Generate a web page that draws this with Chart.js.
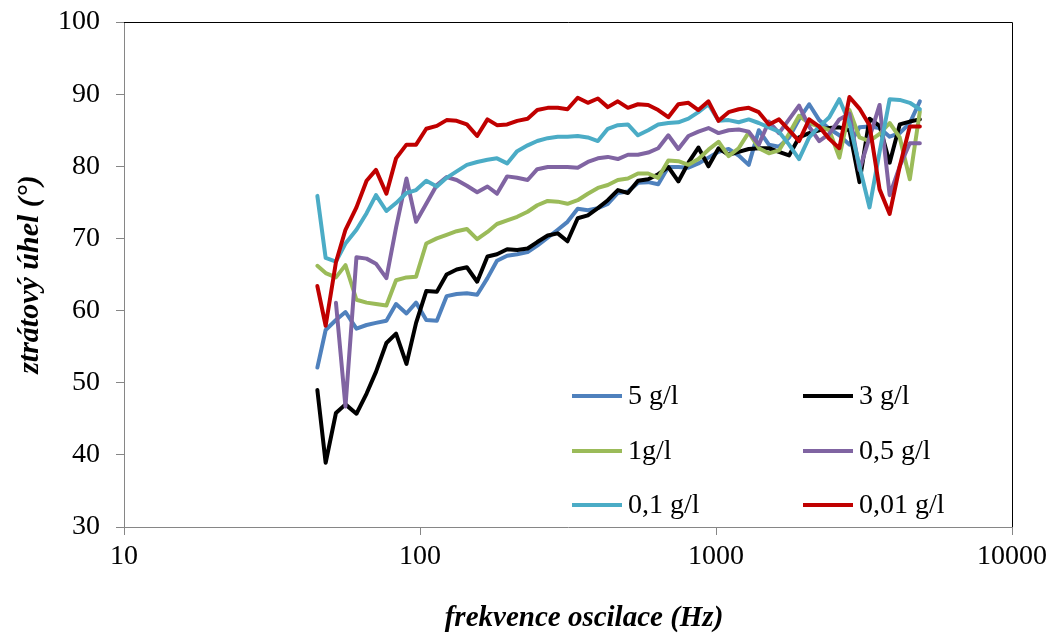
<!DOCTYPE html>
<html>
<head>
<meta charset="utf-8">
<script src="https://cdn.jsdelivr.net/npm/chart.js@4/dist/chart.umd.min.js"></script>
<style>
  html, body { margin: 0; padding: 0; background: #fff; }
  #wrap { width: 1053px; height: 635px; }
</style>
</head>
<body>
<div id="wrap"><canvas id="lossChart" width="1053" height="635"></canvas></div>
<script>
// frekvence (Hz)
const freqs = [45, 48, 52, 56, 61, 66, 71, 77, 83, 90, 97, 105, 114, 123, 133, 144, 156, 169, 182, 197,
    213, 231, 249, 270, 292, 315, 341, 369, 399, 431, 466, 504, 545, 590, 638, 690, 746, 807, 872, 943,
    1020, 1103, 1193, 1290, 1395, 1509, 1632, 1765, 1908, 2064, 2232, 2414, 2610, 2823, 3053, 3301, 3570, 3861, 4176, 4516, 4883];

const seriesLabels = ['5 g/l', '3 g/l', '1g/l', '0,5 g/l', '0,1 g/l', '0,01 g/l'];

const conc5 = [52.1, 57.3, 58.7, 59.8, 57.5, 58, 58.3, 58.6, 60.9, 59.6, 61.1, 58.7, 58.6, 62, 62.3, 62.4, 62.2, 64.5, 66.9, 67.6,
    67.8, 68.1, 69, 70.1, 71.2, 72.3, 74.1, 73.9, 74.2, 74.8, 76.3, 76.5, 77.7, 77.8, 77.5, 79.9, 79.9, 79.8, 80.4, 81.2,
    82, 82.4, 81.5, 80.2, 85, 83, 82.7, 84, 86.5, 88.6, 86.4, 85.2, 84.3, 83, 85.4, 85.5, 85.3, 84.1, 84.6, 86, 89];
const conc3 = [49, 38.9, 45.8, 47, 45.7, 48.5, 51.5, 55.5, 56.8, 52.6, 58.3, 62.7, 62.6, 65, 65.7, 66, 64, 67.5, 67.8, 68.5,
    68.4, 68.6, 69.5, 70.4, 70.7, 69.6, 72.8, 73.2, 74.2, 75.3, 76.7, 76.3, 78, 78.2, 78.9, 79.9, 77.9, 80.5, 82.6, 80,
    82.5, 81.6, 82, 82.4, 82.5, 82.5, 82, 81.5, 84, 84.6, 85, 85.3, 85.4, 85, 77.8, 86.6, 85.6, 80.5, 85.8, 86.2, 86.5];
const conc1 = [66.2, 65.2, 64.6, 66.3, 61.5, 61.1, 60.9, 60.7, 64.2, 64.6, 64.7, 69.3, 70, 70.5, 71, 71.3, 69.9, 70.9, 72, 72.5,
    73, 73.7, 74.6, 75.2, 75.1, 74.8, 75.3, 76.2, 77, 77.4, 78.1, 78.3, 79, 79, 78.4, 80.8, 80.7, 80.2, 81, 82.3,
    83.4, 81.4, 82.5, 84.7, 82.5, 81.8, 82.2, 84.5, 87, 86, 85.5, 85, 81.2, 87.8, 84, 83.5, 84.5, 86, 84, 78.2, 87.6];
const conc05 = [null, null, 61.1, 46.7, 67.4, 67.2, 66.5, 64.5, 71.5, 78.3, 72.3, 74.8, 77.4, 78.5, 78.1, 77.3, 76.4, 77.2, 76.2, 78.6,
    78.4, 78.1, 79.6, 79.9, 79.9, 79.9, 79.8, 80.6, 81.1, 81.3, 81, 81.6, 81.6, 81.9, 82.5, 84.3, 82.4, 84.2, 84.8, 85.3,
    84.6, 85, 85.1, 84.8, 83, 86.2, 84.6, 86.5, 88.4, 85.5, 83.5, 84.5, 86.5, 87.3, 79.5, 84, 88.5, 76, 80, 83.2, 83.2];
const conc01 = [75.9, 67.3, 66.8, 69.3, 71.2, 73.5, 76, 73.8, 74.9, 76.3, 76.7, 78, 77.2, 78.4, 79.3, 80.2, 80.6, 80.9, 81.1, 80.4,
    82.1, 82.9, 83.5, 83.9, 84.1, 84.1, 84.2, 84, 83.5, 85.2, 85.7, 85.8, 84.3, 85, 85.8, 86, 86.1, 86.6, 87.5, 88.6,
    86.3, 86.4, 86.1, 86.5, 86, 85.4, 84.8, 83, 81, 84, 85.5, 86.8, 89.3, 86, 80, 74.3, 82, 89.3, 89.2, 88.8, 87.9];
const conc001 = [63.4, 57.9, 66.7, 71.2, 74.3, 78, 79.5, 76.2, 81.1, 83, 83, 85.2, 85.6, 86.4, 86.3, 85.8, 84.2, 86.5, 85.7, 85.8,
    86.3, 86.6, 87.8, 88.1, 88.1, 87.9, 89.5, 88.8, 89.4, 88.2, 89, 88.1, 88.6, 88.5, 87.8, 86.8, 88.6, 88.8, 87.8, 89,
    86.3, 87.5, 87.9, 88.1, 87.5, 85.8, 86.5, 85, 83.5, 86.5, 85.5, 83.8, 82.5, 89.6, 88, 85.7, 76.8, 73.4, 80, 85.5, 85.5];

const xTicks = [10, 100, 1000, 10000];
const yTicks = [30, 40, 50, 60, 70, 80, 90, 100];

const allSeries = [conc5, conc3, conc1, conc05, conc01, conc001];
const lineColors = ['#4f81bd', '#000000', '#9bbb59', '#8064a2', '#4bacc6', '#c00000'];

const xTitle = 'frekvence oscilace (Hz)';
const serif = '"Liberation Serif", "Times New Roman", serif';
const axisGray = '#868686';

// ramecek nahore/vpravo, nazev osy x a legenda uvnitr grafu
const plotExtras = {
    id: 'plotExtras',
    beforeDatasetsDraw(chart) {
        const { ctx, chartArea: a } = chart;
        ctx.save();
        ctx.strokeStyle = '#000';
        ctx.lineWidth = 1;
        ctx.beginPath();
        ctx.moveTo(a.left, a.top + 0.5);
        ctx.lineTo(a.right + 0.5, a.top + 0.5);
        ctx.lineTo(a.right + 0.5, a.bottom);
        ctx.stroke();
        ctx.restore();
    },
    afterDatasetsDraw(chart) {
        const { ctx } = chart;
        const colX = [572, 803];
        const rowY = [396, 451, 505];
        ctx.save();
        ctx.font = '28px ' + serif;
        ctx.textBaseline = 'middle';
        ctx.fillStyle = '#000';
        chart.data.datasets.forEach((ds, i) => {
            const x = colX[i % 2];
            const y = rowY[Math.floor(i / 2)];
            ctx.strokeStyle = ds.borderColor;
            ctx.lineWidth = 4;
            ctx.lineCap = 'butt';
            ctx.beginPath();
            ctx.moveTo(x, y);
            ctx.lineTo(x + 50, y);
            ctx.stroke();
            ctx.fillText(ds.label, x + 56, y + 1);
        });

        ctx.font = 'italic bold 29px ' + serif;
        ctx.textAlign = 'center';
        ctx.fillText(xTitle, 584, 619);
        ctx.restore();
    }
};

new Chart(document.getElementById('lossChart'), {
    type: 'line',
    data: {
        datasets: allSeries.map((vals, i) => ({
            label: seriesLabels[i],
            data: freqs.map((f, j) => ({ x: f, y: vals[j] })),
            borderColor: lineColors[i],
            backgroundColor: lineColors[i],
            borderWidth: 4,
            pointRadius: 0,
            tension: 0,
            borderJoinStyle: 'round',
            borderCapStyle: 'round',
            fill: false,
            order: allSeries.length - i,
        }))
    },
    options: {
        responsive: false,
        animation: false,
        devicePixelRatio: 1,
        layout: { padding: { top: 22, right: 41, left: 0, bottom: 0 } },
        plugins: {
            legend: { display: false },
            tooltip: { enabled: false }
        },
        scales: {
            x: {
                type: 'logarithmic',
                min: 10,
                max: 10000,
                afterBuildTicks: s => { s.ticks = xTicks.map(v => ({ value: v })); },
                afterFit: s => { s.height = 108; s.paddingLeft = 0; s.paddingRight = 0; },
                grid: { drawOnChartArea: false, color: axisGray, tickLength: 8 },
                border: { color: axisGray, width: 1 },
                ticks: { color: '#000', font: { family: serif, size: 28 }, padding: 5, maxRotation: 0, autoSkip: false,
                    callback: v => String(v) }
            },
            y: {
                min: 30,
                max: 100,
                afterBuildTicks: s => { s.ticks = yTicks.map(v => ({ value: v })); },
                afterFit: s => { s.width = 124; s.paddingTop = 0; s.paddingBottom = 0; },
                grid: { drawOnChartArea: false, color: axisGray, tickLength: 8 },
                border: { color: axisGray, width: 1 },
                ticks: { color: '#000', font: { family: serif, size: 28 }, padding: 16 },
                title: {
                    display: true,
                    text: 'ztrátový úhel (°)',
                    color: '#000',
                    font: { family: serif, size: 30, weight: 'bold', style: 'italic' },
                    padding: { top: 12, bottom: 0 }
                }
            }
        }
    },
    plugins: [plotExtras]
});
</script>
</body>
</html>
